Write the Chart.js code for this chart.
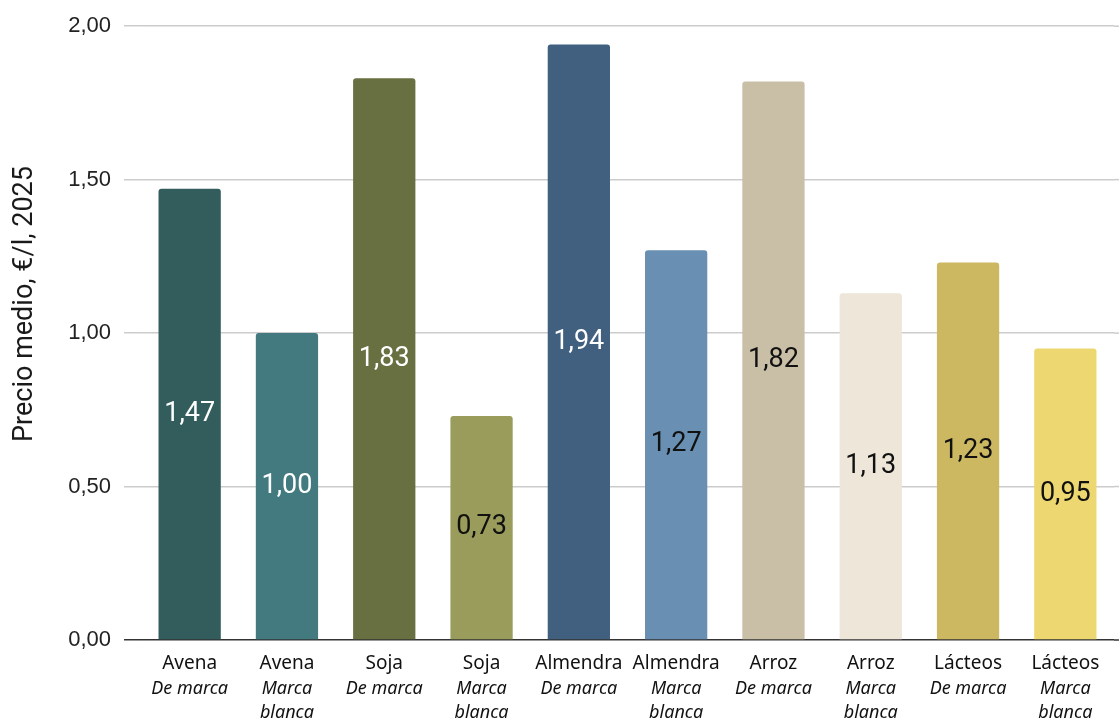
<!DOCTYPE html>
<html>
<head>
<meta charset="utf-8">
<script src="https://cdn.jsdelivr.net/npm/chart.js@4"></script>
<style>
  html, body { margin: 0; padding: 0; background: #fff; }
  #wrap { width: 1119px; height: 719px; }
</style>
</head>
<body>
<div id="wrap"><canvas id="c" width="1119" height="719"></canvas></div>
<script>
// Milk types and brand kind, one entry per bar
const productos = ['Avena', 'Avena', 'Soja', 'Soja', 'Almendra', 'Almendra', 'Arroz', 'Arroz', 'Lácteos', 'Lácteos'];
const tipos = [
  ['De marca'], ['Marca', 'blanca'],
  ['De marca'], ['Marca', 'blanca'],
  ['De marca'], ['Marca', 'blanca'],
  ['De marca'], ['Marca', 'blanca'],
  ['De marca'], ['Marca', 'blanca']
];
// Average price, €/l, 2025
const precios = [1.47, 1.00, 1.83, 0.73, 1.94, 1.27, 1.82, 1.13, 1.23, 0.95];
const colores = ['#335c5c', '#427a80', '#686f40', '#999c5a', '#415f7e', '#6990b2', '#c9bfa7', '#ede6d9', '#cdb862', '#ecd770'];
const coloresEtiqueta = ['#ffffff', '#ffffff', '#ffffff', '#111111', '#ffffff', '#111111', '#111111', '#111111', '#111111', '#111111'];
const ticksY = [0, 0.5, 1, 1.5, 2];
const tituloY = 'Precio medio, €/l, 2025';

const fmt = v => v.toFixed(2).replace('.', ',');

// value labels in the middle of each bar
const etiquetasValor = {
  id: 'etiquetasValor',
  afterDatasetsDraw(chart) {
    const ctx = chart.ctx;
    const meta = chart.getDatasetMeta(0);
    ctx.save();
    ctx.font = '27px Roboto';
    ctx.textAlign = 'center';
    ctx.textBaseline = 'middle';
    meta.data.forEach((bar, i) => {
      ctx.fillStyle = coloresEtiqueta[i];
      ctx.fillText(fmt(precios[i]), bar.x, (bar.y + bar.base) / 2);
    });
    ctx.restore();
  }
};

// two-style category labels under the x axis, plus the rotated y title
const textos = {
  id: 'textos',
  afterDraw(chart) {
    const ctx = chart.ctx;
    const x = chart.scales.x;
    const top = chart.chartArea.bottom;
    ctx.save();
    ctx.textAlign = 'center';
    ctx.textBaseline = 'middle';
    ctx.fillStyle = '#111';
    productos.forEach((p, i) => {
      const cx = x.getPixelForValue(i);
      ctx.font = '19px "Noto Sans"';
      ctx.fillText(p, cx, top + 24);
      ctx.font = 'italic 18px "Noto Sans"';
      tipos[i].forEach((t, j) => ctx.fillText(t, cx, top + 49 + j * 24));
    });
    ctx.translate(25, 304);
    ctx.rotate(-Math.PI / 2);
    ctx.font = '27px Roboto';
    ctx.fillStyle = '#1a1a1a';
    ctx.fillText(tituloY, 0, 0);
    ctx.restore();
  }
};

// carry the horizontal grid lines to the right edge of the canvas
const rejillaDerecha = {
  id: 'rejillaDerecha',
  beforeDatasetsDraw(chart) {
    const ctx = chart.ctx;
    const y = chart.scales.y;
    const a = chart.chartArea;
    ctx.save();
    ticksY.forEach(v => {
      const py = y.getPixelForValue(v);
      ctx.strokeStyle = v === 0 ? '#333333' : '#cccccc';
      ctx.lineWidth = 1.5;
      ctx.beginPath();
      ctx.moveTo(a.right, py);
      ctx.lineTo(chart.width, py);
      ctx.stroke();
    });
    ctx.restore();
  }
};

new Chart(document.getElementById('c'), {
  type: 'bar',
  data: {
    labels: productos.map((p, i) => p + ' ' + tipos[i].join(' ')),
    datasets: [{
      data: precios,
      backgroundColor: colores,
      borderRadius: { topLeft: 3, topRight: 3, bottomLeft: 0, bottomRight: 0 },
      borderSkipped: 'bottom',
      barPercentage: 0.64,
      categoryPercentage: 1.0
    }]
  },
  options: {
    responsive: false,
    animation: false,
    layout: { padding: { top: 15, right: 5, bottom: 71, left: 0 } },
    plugins: { legend: { display: false }, tooltip: { enabled: false } },
    scales: {
      x: {
        ticks: { display: false },
        grid: { display: false },
        border: { display: false }
      },
      y: {
        min: 0,
        max: 2,
        afterBuildTicks(scale) { scale.ticks = ticksY.map(v => ({ value: v })); },
        afterFit(scale) { scale.width = 141; },
        ticks: {
          callback: v => fmt(v),
          font: { family: '"Liberation Sans"', size: 22 },
          color: '#222',
          padding: 13
        },
        grid: {
          color: ctx => ctx.tick && ctx.tick.value === 0 ? '#333333' : '#cccccc',
          lineWidth: 1.5,
          tickLength: 17
        },
        border: { display: false },
        title: { display: false }
      }
    }
  },
  plugins: [etiquetasValor, textos, rejillaDerecha]
});
</script>
</body>
</html>
